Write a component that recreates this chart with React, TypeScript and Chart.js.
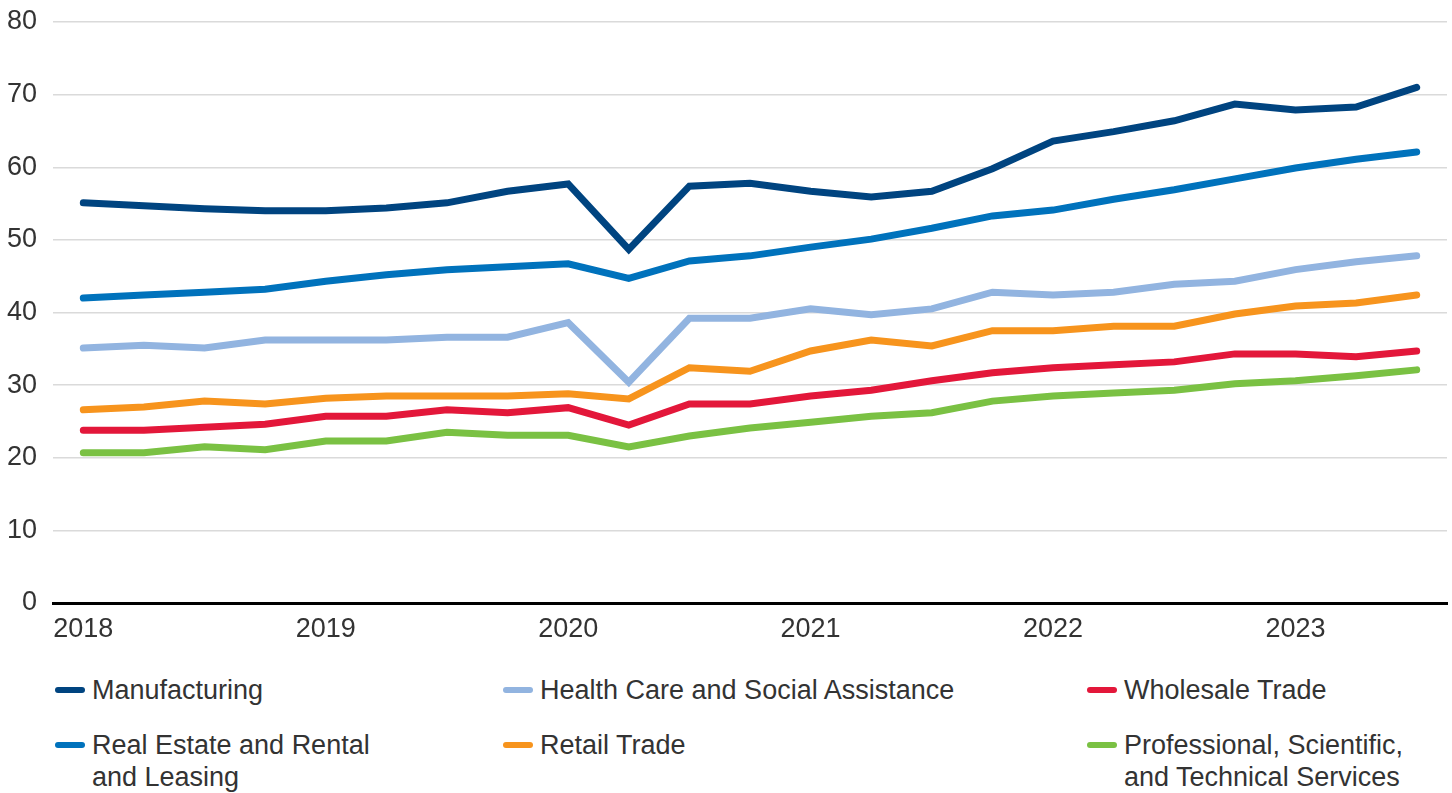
import React, { useEffect, useRef } from "react";
import { Chart, registerables } from "chart.js";

Chart.register(...registerables);

const quarters = [
  "2018 Q1", "2018 Q2", "2018 Q3", "2018 Q4",
  "2019 Q1", "2019 Q2", "2019 Q3", "2019 Q4",
  "2020 Q1", "2020 Q2", "2020 Q3", "2020 Q4",
  "2021 Q1", "2021 Q2", "2021 Q3", "2021 Q4",
  "2022 Q1", "2022 Q2", "2022 Q3", "2022 Q4",
  "2023 Q1", "2023 Q2", "2023 Q3",
];
const yearTickLabels = ["2018", "2019", "2020", "2021", "2022", "2023"];

const manufacturing = [55.1, 54.7, 54.3, 54.0, 54.0, 54.4, 55.1, 56.7, 57.7, 48.7, 57.4, 57.8, 56.7, 55.9, 56.7, 59.8, 63.6, 64.9, 66.4, 68.7, 67.9, 68.3, 71.0];
const realEstate = [42.0, 42.4, 42.8, 43.2, 44.3, 45.2, 45.9, 46.3, 46.7, 44.7, 47.1, 47.8, 49.0, 50.1, 51.6, 53.3, 54.1, 55.6, 56.9, 58.4, 59.9, 61.1, 62.1];
const healthCare = [35.1, 35.5, 35.1, 36.2, 36.2, 36.2, 36.6, 36.6, 38.6, 30.4, 39.2, 39.2, 40.5, 39.7, 40.5, 42.8, 42.4, 42.8, 43.9, 44.3, 45.9, 47.0, 47.8];
const retailTrade = [26.6, 27.0, 27.8, 27.4, 28.2, 28.5, 28.5, 28.5, 28.8, 28.1, 32.4, 31.9, 34.7, 36.2, 35.4, 37.5, 37.5, 38.1, 38.1, 39.8, 40.9, 41.3, 42.4];
const wholesaleTrade = [23.8, 23.8, 24.2, 24.6, 25.7, 25.7, 26.6, 26.2, 26.9, 24.5, 27.4, 27.4, 28.5, 29.3, 30.6, 31.7, 32.4, 32.8, 33.2, 34.3, 34.3, 33.9, 34.7];
const professional = [20.7, 20.7, 21.5, 21.1, 22.3, 22.3, 23.5, 23.1, 23.1, 21.5, 23.0, 24.1, 24.9, 25.7, 26.2, 27.8, 28.5, 28.9, 29.3, 30.2, 30.6, 31.3, 32.1];

const seriesNames = [
  "Manufacturing",
  "Real Estate and Rental and Leasing",
  "Health Care and Social Assistance",
  "Retail Trade",
  "Wholesale Trade",
  "Professional, Scientific, and Technical Services",
];
const seriesColors = ["#004480", "#0072bc", "#92b4e0", "#f7941d", "#e3173a", "#7ac143"];
const seriesValues = [manufacturing, realEstate, healthCare, retailTrade, wholesaleTrade, professional];

const FONT = "'Liberation Sans', Arial, Helvetica, sans-serif";
const TEXT = "#333333";

export default function App() {
  const ref = useRef<HTMLCanvasElement | null>(null);

  useEffect(() => {
    if (!ref.current) return;
    const chart = new Chart(ref.current, {
      type: "line",
      data: {
        labels: quarters,
        datasets: seriesNames.map((name, i) => ({
          label: name,
          data: seriesValues[i],
          borderColor: seriesColors[i],
          backgroundColor: seriesColors[i],
          borderWidth: 7,
          borderCapStyle: "round" as const,
          borderJoinStyle: "miter" as const,
          pointRadius: 0,
          pointHoverRadius: 0,
          tension: 0,
          fill: false,
        })),
      },
      options: {
        animation: false,
        responsive: false,
        layout: { padding: { top: 22, right: 5, left: 0, bottom: 0 } },
        plugins: { legend: { display: false }, tooltip: { enabled: false } },
        scales: {
          x: {
            type: "category",
            offset: true,
            grid: { display: false, drawTicks: false },
            border: { display: true, color: "#000000", width: 3 },
            ticks: {
              autoSkip: false,
              maxRotation: 0,
              padding: 10,
              color: TEXT,
              font: { family: FONT, size: 27 },
              callback: (_v: any, i: number) => (i % 4 === 0 ? yearTickLabels[i / 4] : ""),
            },
            afterFit: (s: any) => {
              s.height = 47;
              s.paddingLeft = 0;
              s.paddingRight = 0;
            },
          },
          y: {
            min: 0,
            max: 80,
            ticks: {
              stepSize: 10,
              padding: 16,
              color: TEXT,
              font: { family: FONT, size: 27 },
            },
            grid: { color: "#dadada", lineWidth: 1.5, drawTicks: false },
            border: { display: false },
            afterFit: (s: any) => {
              s.width = 53;
              s.paddingTop = 0;
              s.paddingBottom = 0;
            },
          },
        },
      },
    });
    return () => chart.destroy();
  }, []);

  const legendItem = (idx: number, left: number, top: number, width: number) => (
    <div
      key={idx}
      style={{ position: "absolute", left, top, display: "flex", alignItems: "flex-start" }}
    >
      <div
        style={{
          width: 30,
          height: 6,
          borderRadius: 3,
          background: seriesColors[idx],
          marginTop: 13,
          marginRight: 7,
        }}
      />
      <div style={{ width, fontFamily: FONT, fontSize: 27, lineHeight: "32px", color: TEXT }}>
        {seriesNames[idx]}
      </div>
    </div>
  );

  return (
    <div style={{ position: "fixed", left: 0, top: 0, width: 1452, height: 793, background: "#fff" }}>
      <canvas ref={ref} width={1452} height={650} style={{ position: "absolute", left: 0, top: 0 }} />
      {legendItem(0, 55, 674, 300)}
      {legendItem(1, 55, 729, 300)}
      {legendItem(2, 503, 674, 480)}
      {legendItem(3, 503, 729, 480)}
      {legendItem(4, 1087, 674, 300)}
      {legendItem(5, 1087, 729, 300)}
    </div>
  );
}
